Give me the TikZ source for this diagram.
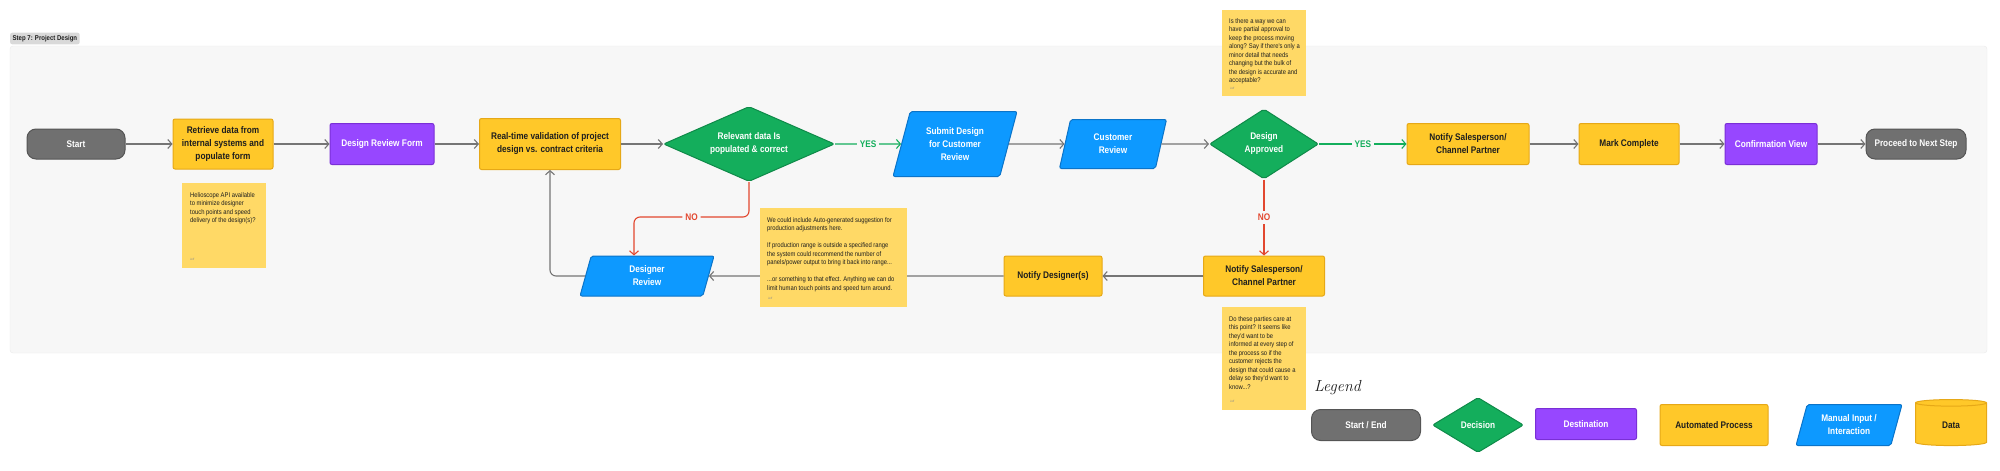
\documentclass[tikz,border=0pt]{standalone}
\usepackage{fontspec}
\newfontfamily\boxfont{Liberation Sans}[FakeStretch=0.86]
\usetikzlibrary{shapes.geometric,arrows.meta}

\definecolor{panelbg}{HTML}{F7F7F7}
\definecolor{panelline}{HTML}{EBEBEB}
\definecolor{tagbg}{HTML}{D9D9D9}
\definecolor{termfill}{HTML}{707070}
\definecolor{termline}{HTML}{555555}
\definecolor{procfill}{HTML}{FFC829}
\definecolor{procline}{HTML}{E6A817}
\definecolor{destfill}{HTML}{9747FF}
\definecolor{destline}{HTML}{7A2FD6}
\definecolor{decfill}{HTML}{14AE5C}
\definecolor{decline}{HTML}{0F8A49}
\definecolor{manfill}{HTML}{0D99FF}
\definecolor{manline}{HTML}{0B74C9}
\definecolor{notefill}{HTML}{FFD966}
\definecolor{linegray}{HTML}{757575}
\definecolor{yesgreen}{HTML}{14AE5C}
\definecolor{nored}{HTML}{E2472F}
\definecolor{inkdark}{HTML}{1E1E1E}

\tikzset{
	shapebase/.style={line width=1pt, align=center, inner sep=2pt, font=\boxfont\bfseries\fontsize{9.6}{13}\selectfont},
	terminal/.style={shapebase, rectangle, rounded corners=9pt, fill=termfill, draw=termline, text=white},
	process/.style={shapebase, rectangle, rounded corners=2pt, fill=procfill, draw=procline, text=inkdark},
	destination/.style={shapebase, rectangle, rounded corners=2pt, fill=destfill, draw=destline, text=white},
	decision/.style={shapebase, diamond, inner sep=0pt, rounded corners=2pt, fill=decfill, draw=decline, text=white},
	manual/.style={shapebase, trapezium, trapezium left angle=65, trapezium right angle=115, trapezium stretches body, rounded corners=2pt, fill=manfill, draw=manline, text=white},
	datastore/.style={shapebase, cylinder, shape border rotate=90, aspect=0.3, fill=procfill, draw=procline, text=inkdark},
	flow/.style={line width=1.1pt, draw=linegray, -{Straight Barb[length=4pt,width=9pt]}},
	yesflow/.style={flow, draw=yesgreen},
	noflow/.style={flow, draw=nored, rounded corners=6pt},
	yeslabel/.style={fill=panelbg, text=yesgreen, inner sep=3pt, font=\boxfont\bfseries\fontsize{9.6}{10}\selectfont},
	nolabel/.style={yeslabel, text=nored},
	sticky/.style={rectangle, anchor=north west, inner sep=0pt, fill=notefill},
	stickytext/.style={anchor=north west, align=left, inner sep=0pt, text=inkdark, font=\boxfont\fontsize{6.8}{8.5}\selectfont},
	signtext/.style={anchor=west, inner sep=0pt, text=black!45, font=\boxfont\fontsize{3}{3}\selectfont},
}

\begin{document}
\begin{tikzpicture}[x=1pt,y=-1pt]
			%%%%% START %%%%%
			\useasboundingbox (0,0) rectangle (2000,471);
			
			\draw[fill=panelbg, draw=panelline, rounded corners=3pt] (10,46) rectangle (1987,353);
			\node[anchor=west, fill=tagbg, rounded corners=2pt, inner sep=2.5pt, minimum height=11pt, text=inkdark, font=\boxfont\bfseries\fontsize{7}{7}\selectfont] (steptag) at (10,38.5) {Step 7: Project Design};
			
			% top row
			\node[terminal, minimum width=98pt, minimum height=30pt] (start) at (76,144) {Start};
			\node[process, minimum width=100pt, minimum height=50pt] (retrieve) at (223,144) {Retrieve data from\\internal systems and\\populate form};
			\node[destination, minimum width=104pt, minimum height=41pt] (reviewform) at (382,144) {Design Review Form};
			\node[process, minimum width=141pt, minimum height=51pt] (validate) at (550,144) {Real-time validation of project\\design vs. contract criteria};
			\node[decision, aspect=2.28, minimum width=171pt, minimum height=75pt] (relevant) at (749,144) {Relevant data Is\\populated \& correct};
			\node[manual, minimum width=124pt, minimum height=65pt] (submit) at (955,144) {Submit Design\\for Customer\\Review};
			\node[manual, minimum width=107pt, minimum height=49pt] (custreview) at (1113,144) {Customer\\Review};
			\node[decision, aspect=1.56, minimum width=109pt, minimum height=70pt] (approved) at (1264,144) {Design\\Approved};
			\node[process, minimum width=122pt, minimum height=41pt] (notifysales) at (1468,144) {Notify Salesperson/\\Channel Partner};
			\node[process, minimum width=100pt, minimum height=41pt] (markdone) at (1629,144) {Mark Complete};
			\node[destination, minimum width=92pt, minimum height=41pt] (confirm) at (1771,144) {Confirmation View};
			\node[terminal, minimum width=100pt, minimum height=30pt] (proceed) at (1916,144) {Proceed to Next Step};
			
			% bottom row
			\node[manual, minimum width=134pt, minimum height=40pt] (designer) at (647,276) {Designer\\Review};
			\node[process, minimum width=98pt, minimum height=40pt] (notifydes) at (1053,276) {Notify Designer(s)};
			\node[process, minimum width=121pt, minimum height=40pt] (notifysales2) at (1264,276) {Notify Salesperson/\\Channel Partner};
			
			\draw[flow] (start) -- (retrieve);
			\draw[flow] (retrieve) -- (reviewform);
			\draw[flow] (reviewform) -- (validate);
			\draw[flow] (validate) -- (relevant);
			\draw[yesflow] (relevant) -- node[yeslabel] (yesone) {YES} (submit);
			\draw[flow] (submit) -- (custreview);
			\draw[flow] (custreview) -- (approved);
			\draw[yesflow] (approved) -- node[yeslabel] (yestwo) {YES} (notifysales);
			\draw[flow] (notifysales) -- (markdone);
			\draw[flow] (markdone) -- (confirm);
			\draw[flow] (confirm) -- (proceed);
			
			\coordinate (nojoin) at (634,217);
			\draw[noflow] (relevant.south) |- node[nolabel, pos=0.75] (noone) {NO} (nojoin) -- (nojoin |- designer.north);
			\draw[noflow] (approved) -- node[nolabel] (notwo) {NO} (notifysales2);
			\draw[flow] (notifysales2) -- (notifydes);
			\draw[flow] (notifydes) -- (designer);
			\draw[flow, rounded corners=6pt] (designer.west) -| (validate.south);
			
			% sticky notes
			\node[sticky, minimum width=84pt, minimum height=85pt] (helionote) at (182,183) {};
			\node[stickytext] (heliotext) at ([shift={(8,9)}]helionote.north west) {Helioscope API available\\to minimize designer\\touch points and speed\\delivery of the design(s)?};
			\node[signtext] (heliosign) at ([shift={(8,-9)}]helionote.south west) {Jeff};
			
			\node[sticky, minimum width=84pt, minimum height=86pt] (partialnote) at (1222,10) {};
			\node[stickytext] (partialtext) at ([shift={(7,8)}]partialnote.north west) {Is there a way we can\\have partial approval to\\keep the process moving\\along? Say if there's only a\\minor detail that needs\\changing but the bulk of\\the design is accurate and\\acceptable?};
			\node[signtext] (partialsign) at ([shift={(8,-8)}]partialnote.south west) {Jeff};
			
			\node[sticky, minimum width=147pt, minimum height=99pt] (suggestnote) at (760,208) {};
			\node[stickytext] (suggesttext) at ([shift={(7,9)}]suggestnote.north west) {We could include Auto-generated suggestion for\\production adjustments here.\\[8.5pt]If production range is outside a specified range\\the system could recommend the number of\\panels/power output to bring it back into range...\\[8.5pt]...or something to that effect. Anything we can do\\limit human touch points and speed turn around.};
			\node[signtext] (suggestsign) at ([shift={(8,-9)}]suggestnote.south west) {Jeff};
			
			\node[sticky, minimum width=84pt, minimum height=103pt] (partiesnote) at (1222,307) {};
			\node[stickytext] (partiestext) at ([shift={(7,9)}]partiesnote.north west) {Do these parties care at\\this point? It seems like\\they'd want to be\\informed at every step of\\the process so if the\\customer rejects the\\design that could cause a\\delay so they'd want to\\know...?};
			\node[signtext] (partiessign) at ([shift={(8,-9)}]partiesnote.south west) {Jeff};
			
			% legend
			\node[anchor=west, inner sep=0pt, text=inkdark, font=\itshape\fontsize{16}{16}\selectfont] (legendtitle) at (1314,388) {Legend};
			\node[terminal, minimum width=109pt, minimum height=31pt] (keyterminal) at (1366,425) {Start / End};
			\node[decision, aspect=1.65, minimum width=91pt, minimum height=55pt] (keydecision) at (1478,425) {Decision};
			\node[destination, minimum width=101pt, minimum height=31pt] (keydest) at (1586,424) {Destination};
			\node[process, minimum width=108pt, minimum height=41pt] (keyprocess) at (1714,425) {Automated Process};
			\node[manual, minimum width=106pt, minimum height=41pt] (keymanual) at (1849,425) {Manual Input /\\Interaction};
			\node[datastore, minimum width=71pt, minimum height=46pt] (keydata) at (1951,425) {Data};
			
			%%%%% END %%%%%
\end{tikzpicture}
\end{document}
